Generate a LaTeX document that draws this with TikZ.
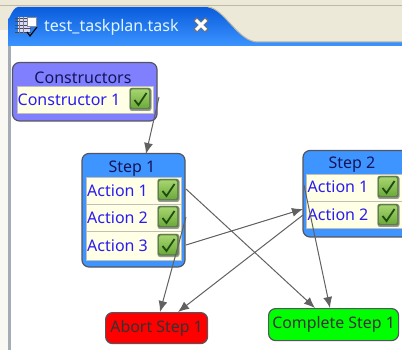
\documentclass[tikz,border=0pt]{standalone}
\usepackage{fontspec}
\setmainfont{Noto Sans}
\usetikzlibrary{arrows.meta}
\definecolor{tabtop}{HTML}{0A5CDC}
\definecolor{tabbot}{HTML}{3C94FF}
\definecolor{beige}{HTML}{ECE9D8}
\definecolor{beigeline}{HTML}{BDB9A6}
\definecolor{cream}{HTML}{FFFFE6}
\definecolor{rowgrey}{HTML}{C0C0B8}
\definecolor{frame}{HTML}{55555F}
\definecolor{ctor}{HTML}{8080FF}
\definecolor{stepc}{HTML}{3F95FF}
\definecolor{ttlc}{HTML}{14145A}
\definecolor{actc}{HTML}{2A1CF0}
\definecolor{chklo}{HTML}{6CAA3A}
\definecolor{chkhi}{HTML}{A6D46E}
\definecolor{chkrim}{HTML}{5E7F4A}
\definecolor{chkmark}{HTML}{1F4A14}
\definecolor{sideline}{HTML}{A4ACB4}
\tikzset{
  x=1pt,y=-1pt,
  panel/.style={fill=#1,draw=frame,line width=1.2pt,rounded corners=7pt},
  rowbox/.style={fill=cream,draw=rowgrey,line width=1pt},
  ttl/.style={font=\fontsize{16}{18}\selectfont,text=ttlc,inner sep=0pt},
  act/.style={font=\fontsize{16}{18}\selectfont,text=actc,inner sep=0pt,anchor=west},
  term/.style={draw=frame,line width=1.2pt,rounded corners=7pt,font=\fontsize{15.9}{18}\selectfont,text=black!80,inner sep=0pt,anchor=north west},
  conn/.style={draw=black!62,line width=1pt,-{Latex[length=11pt,width=9pt]}}
}
\newcommand{\chkbox}[2]{%
  \fill[black!40,rounded corners=2.5pt] (#1-10.5,#2-11) rectangle (#1+11.5,#2+12);
  \fill[chkrim,rounded corners=2pt] (#1-10.5,#2-11) rectangle (#1+10.5,#2+10.5);
  \shade[top color=chkhi,bottom color=chklo,rounded corners=1.5pt] (#1-9,#2-9.5) rectangle (#1+9,#2+9);
  \draw[chkmark,line width=1.8pt] (#1-5.5,#2+1) -- (#1-1.5,#2+6) -- (#1+6.5,#2-6);
}
\begin{document}
\begin{tikzpicture}
\useasboundingbox (0,0) rectangle (402,350);
\fill[beige] (0,0) rectangle (402,350);
\shade[top color=tabtop,bottom color=tabbot] (8,46) -- (8,18) to[out=-90,in=180] (18,7) -- (208,7) .. controls (225,9) and (238,42) .. (258,42) -- (402,42) -- (402,46) -- cycle;
\draw[beigeline,line width=1pt] (0,6) -- (402,6);
\draw[beigeline,line width=1pt] (208,7) .. controls (225,9) and (238,42) .. (258,42) -- (402,42);
\fill[white] (11,46) rectangle (402,350);
\fill[white!70!beige] (0,30) rectangle (7.5,350);
\fill[sideline] (7.5,46) rectangle (10.8,350);
\node[font=\fontsize{16}{18}\selectfont,text=white!88!cyan,anchor=west,inner sep=0pt] (tabt) at (44,27) {test\_taskplan.task};
% close icon
\draw[black!55,line width=4.6pt] (195,19) -- (207,31) (195,31) -- (207,19);
\draw[white,line width=3pt] (196,20) -- (206,30) (196,30) -- (206,20);
% tab icon
\fill[white!85!blue] (18,17) rectangle (30,33);
\foreach \yy in {18,21.5,25,28.5,32}{\draw[black!70,line width=.8pt] (15,\yy) -- (31,\yy);}
\foreach \xx in {19,23}{\draw[black!50,line width=.6pt] (\xx,17) -- (\xx,33);}
\fill[white] (27,17) rectangle (36,26);
\draw[black!45] (27,17) rectangle (36,26);
\draw[black,line width=1.1pt] (27,32) -- (30,36) -- (37,27);
% Constructors
\path[panel=ctor] (12.5,62.5) rectangle (157,121);
\node[ttl] (ct) at (83,77.5) {Constructors};
\path[rowbox] (17,87) rectangle (153,114);
\node[act] (c1t) at (17.5,99.5) {Constructor 1};
\chkbox{140}{99}
% Step 1
\path[panel=stepc] (82,153.5) rectangle (185,267);
\node[ttl] (st1) at (132,169) {Step 1};
\path[rowbox] (86,178) rectangle (181,205);
\path[rowbox] (86,205) rectangle (181,232);
\path[rowbox] (86,232) rectangle (181,260);
\node[act] at (87,190.5) {Action 1};
\node[act] at (87,218) {Action 2};
\node[act] at (87,245.5) {Action 3};
\chkbox{168}{190}
\chkbox{168}{217}
\chkbox{168}{245}
% Step 2
\path[panel=stepc] (303,150.5) rectangle (412,237);
\node[ttl] (st2) at (352,165) {Step 2};
\path[rowbox] (306.5,175) rectangle (408,202);
\path[rowbox] (306.5,202) rectangle (408,229);
\node[act] at (307.5,187) {Action 1};
\node[act] at (307.5,215) {Action 2};
\chkbox{388}{187}
\chkbox{388}{215}
% Terminals
\node[term,fill=red,minimum width=102pt,minimum height=31pt] (abort) at (105,312) {Abort Step 1};
\node[term,fill=green,minimum width=130pt,minimum height=32pt] (comp) at (268,308) {Complete Step 1};
% Connectors
\coordinate (c1r) at (159,97);
\coordinate (s1t) at (146,154);
\coordinate (a1r) at (186,189);
\coordinate (a2r) at (186,217);
\coordinate (a3r) at (186,245);
\coordinate (b1l) at (304,185);
\coordinate (b2l) at (303,215);
\coordinate (b2i) at (303,209);
\coordinate (ab1) at (160,312);
\coordinate (ab2) at (178,312);
\coordinate (cm1) at (315,308);
\coordinate (cm2) at (330,308);
\draw[conn] (c1r) -- (s1t);
\draw[conn] (a1r) -- (cm1);
\draw[conn] (a2r) -- (ab1);
\draw[conn] (a3r) -- (b2i);
\draw[conn] (b2l) -- (ab2);
\draw[conn] (b1l) -- (cm2);
\end{tikzpicture}
\end{document}
